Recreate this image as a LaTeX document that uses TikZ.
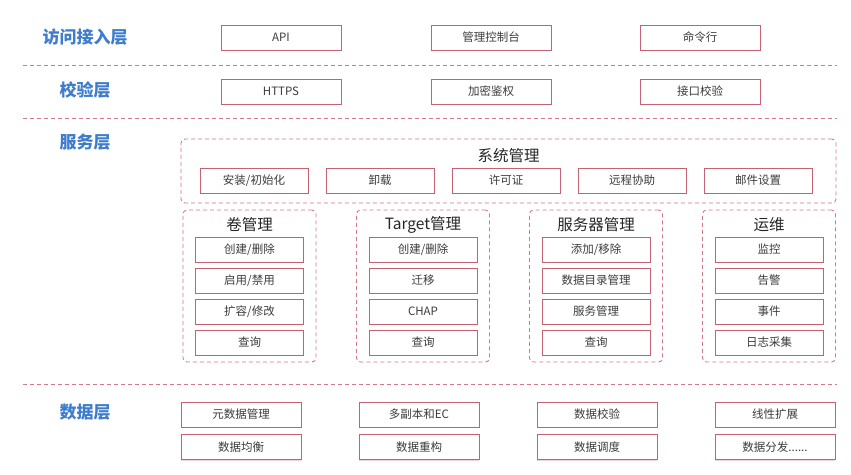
\documentclass[tikz,border=0pt]{standalone}
\usepackage{fontspec}
\setmainfont{Noto Sans CJK SC}
\usetikzlibrary{positioning, shadows}

\definecolor{layerblue}{RGB}{62,124,205}
\definecolor{boxred}{RGB}{196,98,114}
\definecolor{dashred}{RGB}{210,120,136}
\definecolor{textgray}{RGB}{60,60,60}

\tikzset{
    box/.style = {draw=boxred, fill=white, line width=0.8pt, minimum width=120pt, minimum height=25pt,
                  text=textgray, font=\fontsize{11.5}{13}\selectfont,
                  drop shadow={shadow xshift=0pt, shadow yshift=-1.3pt, fill=boxred!55}},
    sbox/.style = {box, minimum width=108pt},
    layer/.style = {text=layerblue, font=\fontsize{17}{20}\selectfont\bfseries},
    grouptitle/.style = {text=black!85, font=\fontsize{15.5}{18}\selectfont},
    group/.style = {draw=dashred, line width=0.9pt, rounded corners=4pt, dash pattern=on 4pt off 3pt},
    sep/.style = {draw=dashred, line width=1pt, dash pattern=on 4pt off 3pt},
}

\begin{document}
\begin{tikzpicture} [x=1pt, y=-1pt, node distance = 31pt, on grid]
    \useasboundingbox (0,0) rectangle (851,474);

    % layer names
    \node (access) [layer] at (85,37) {访问接入层};
    \node (check)  [layer] at (85,90) {校验层};
    \node (service)[layer] at (85,142) {服务层};
    \node (data)   [layer] at (85,412) {数据层};

    % separators
    \coordinate (sepAL) at (23,65);   \coordinate (sepAR) at (837,65);
    \coordinate (sepBL) at (23,118);  \coordinate (sepBR) at (837,118);
    \coordinate (sepCL) at (23,384);  \coordinate (sepCR) at (837,384);
    \draw[sep] (sepAL) -- (sepAR);
    \draw[sep] (sepBL) -- (sepBR);
    \draw[sep] (sepCL) -- (sepCR);

    % access + check layers
    \node (api) [box] at (281,37.5) {API};
    \node (console) [box, right = 210pt of api] {管理控制台};
    \node (cli) [box, right = 209pt of console] {命令行};
    \node (https) [box] at (281,91.5) {HTTPS};
    \node (crypt) [box, right = 210pt of https] {加密鉴权};
    \node (portcheck) [box, right = 209pt of crypt] {接口校验};

    % system management
    \node (sys) [group, minimum width=655pt, minimum height=64pt] at (508.5,171) {};
    \node (systitle) [grouptitle, below = 17pt of sys.north, anchor=center] {系统管理};
    \node (sys1) [sbox] at (254,180.5) {安装/初始化};
    \node (sys2) [sbox, right = 126pt of sys1] {卸载};
    \node (sys3) [sbox, right = 126pt of sys2] {许可证};
    \node (sys4) [sbox, right = 126pt of sys3] {远程协助};
    \node (sys5) [sbox, right = 126pt of sys4] {邮件设置};

    % volume
    \node (vol) [group, minimum width=133pt, minimum height=152pt] at (249.5,286) {};
    \node (voltitle) [grouptitle, below = 15pt of vol.north, anchor=center] {卷管理};
    \node (vol1) [sbox, below = 40pt of vol.north, anchor=center] {创建/删除};
    \node (vol2) [sbox, below = of vol1] {启用/禁用};
    \node (vol3) [sbox, below = of vol2] {扩容/修改};
    \node (vol4) [sbox, below = of vol3] {查询};

    % target
    \node (tgt) [group, minimum width=133pt, minimum height=152pt] at (423,286) {};
    \node (tgttitle) [grouptitle, below = 15pt of tgt.north, anchor=center] {Target管理};
    \node (tgt1) [sbox, below = 40pt of tgt.north, anchor=center] {创建/删除};
    \node (tgt2) [sbox, below = of tgt1] {迁移};
    \node (tgt3) [sbox, below = of tgt2] {CHAP};
    \node (tgt4) [sbox, below = of tgt3] {查询};

    % server
    \node (srv) [group, minimum width=133pt, minimum height=152pt] at (596,286) {};
    \node (srvtitle) [grouptitle, below = 15pt of srv.north, anchor=center] {服务器管理};
    \node (srv1) [sbox, below = 40pt of srv.north, anchor=center] {添加/移除};
    \node (srv2) [sbox, below = of srv1] {数据目录管理};
    \node (srv3) [sbox, below = of srv2] {服务管理};
    \node (srv4) [sbox, below = of srv3] {查询};

    % operations
    \node (ops) [group, minimum width=133pt, minimum height=152pt] at (769,286) {};
    \node (opstitle) [grouptitle, below = 15pt of ops.north, anchor=center] {运维};
    \node (ops1) [sbox, below = 40pt of ops.north, anchor=center] {监控};
    \node (ops2) [sbox, below = of ops1] {告警};
    \node (ops3) [sbox, below = of ops2] {事件};
    \node (ops4) [sbox, below = of ops3] {日志采集};

    % data layer
    \node (meta) [box] at (241,414.5) {元数据管理};
    \node (replica) [box, right = 178pt of meta] {多副本和EC};
    \node (verify) [box, right = 178pt of replica] {数据校验};
    \node (scale) [box, right = 178pt of verify] {线性扩展};
    \node (balance) [box, below = 32.5pt of meta] {数据均衡};
    \node (rebuild) [box, below = 32.5pt of replica] {数据重构};
    \node (sched) [box, below = 32.5pt of verify] {数据调度};
    \node (dist) [box, below = 32.5pt of scale] {数据分发......};
\end{tikzpicture}
\end{document}
